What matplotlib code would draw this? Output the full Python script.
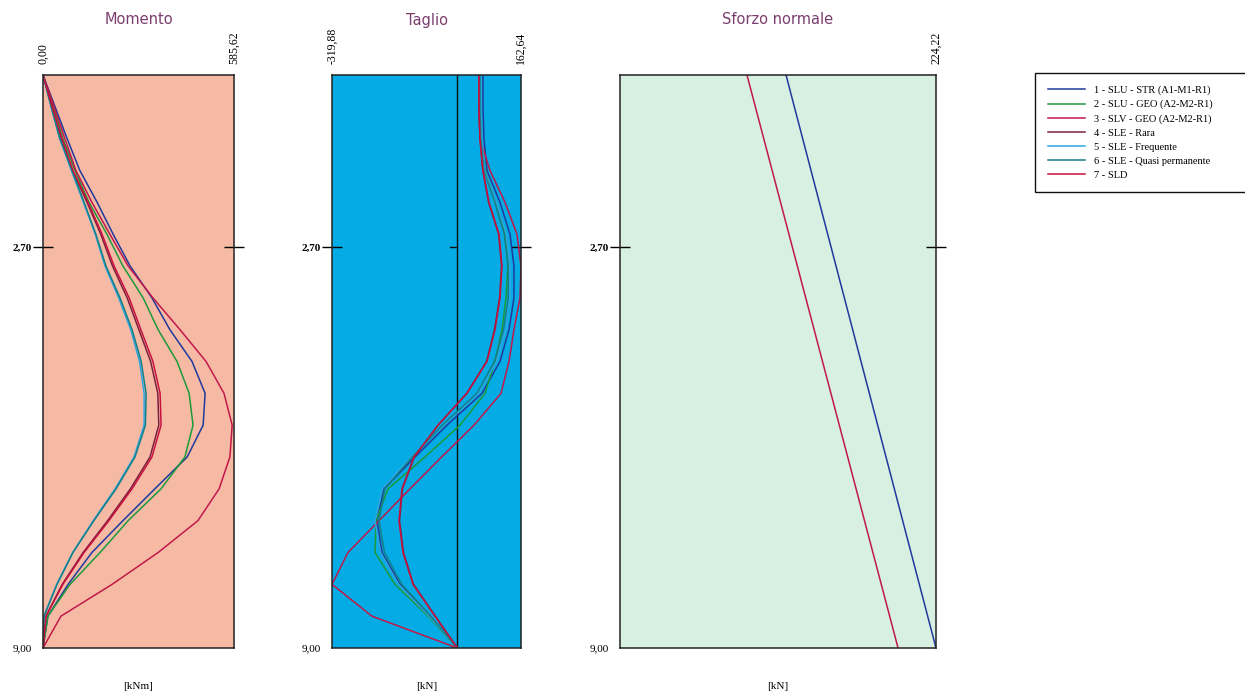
import numpy as np
import matplotlib
matplotlib.use("Agg")
import matplotlib.pyplot as plt

# depth along the wall (m), 0 at top
depth = [0.0, 0.5, 1.0, 1.5, 2.0, 2.5, 3.0, 3.5, 4.0, 4.5,
         5.0, 5.5, 6.0, 6.5, 7.0, 7.5, 8.0, 8.5, 9.0]

combo_labels = [
    "1 - SLU - STR (A1-M1-R1)",
    "2 - SLU - GEO (A2-M2-R1)",
    "3 - SLV - GEO (A2-M2-R1)",
    "4 - SLE - Rara",
    "5 - SLE - Frequente",
    "6 - SLE - Quasi permanente",
    "7 - SLD",
]
combo_colors = ["#1f3a9c", "#1d9a3a", "#c0184a", "#7a2040",
                "#2ea6e0", "#137f86", "#c8103e"]

# bending moment [kNm]
M1 = [0, 37, 74, 113, 166, 215, 267, 334, 389, 457, 497, 491, 442, 343, 245, 150, 77, 15, 0]
M2 = [0, 31, 61, 98, 141, 196, 245, 307, 353, 411, 448, 460, 435, 362, 261, 175, 83, 15, 0]
M3 = [0, 34, 67, 101, 150, 205, 261, 337, 420, 500, 555, 580, 573, 540, 475, 353, 212, 55, 0]
M4 = [0, 27, 56, 90, 135, 177, 213, 258, 294, 330, 352, 355, 328, 268, 198, 123, 59, 9, 0]
M5 = [0, 25, 51, 87, 124, 160, 190, 232, 269, 296, 310, 310, 279, 221, 154, 91, 42, 3, 0]
M6 = [0, 25, 52, 89, 126, 162, 193, 236, 273, 301, 316, 314, 282, 224, 156, 92, 43, 3, 0]
M7 = [0, 28, 58, 92, 138, 181, 218, 264, 300, 337, 359, 362, 334, 273, 202, 126, 61, 9, 0]

# shear [kN]
V1 = [65.6, 65.6, 68.2, 75.8, 109.0, 134.5, 144.7, 144.7, 132.0, 109.0, 63.1, -26.3, -108.0, -187.1, -205.0, -192.2, -146.3, -69.7, 0]
V2 = [57.9, 57.9, 60.5, 70.7, 98.8, 121.8, 129.4, 124.3, 114.1, 96.2, 70.7, 6.9, -82.5, -176.9, -207.5, -210.1, -159.0, -74.8, 0]
V3 = [55.4, 55.4, 57.9, 83.5, 121.8, 152.4, 162.64, 160.1, 144.7, 132.0, 111.6, 42.6, -40.0, -120.8, -199.9, -279.1, -319.88, -218.0, 0]
V4 = [55.4, 55.4, 57.9, 65.0, 80.0, 105.5, 113.0, 108.0, 95.0, 74.8, 24.0, -49.0, -110.0, -140.0, -147.5, -137.5, -112.0, -56.0, 0]
V5 = [60, 60, 62, 70, 100, 125, 135, 135, 124, 100, 55, -35, -118, -192, -210, -196, -150, -72, 0]
V6 = [58, 58, 60, 68, 96, 120, 130, 130, 118, 95, 50, -38, -115, -185, -200, -186, -142, -68, 0]
V7 = [55.4, 55.4, 57.9, 65.6, 80.9, 106.5, 114.1, 109.0, 96.2, 75.8, 24.8, -49.3, -110.6, -141.2, -148.8, -138.6, -113.1, -56.9, 0]

# normal force [kN], straight lines top -> bottom
N_depth = [0.0, 9.0]
N_blue = [117.8, 224.22]
N_red = [90.1, 197.3]

M_lim = (0.0, 585.62)
V_lim = (-319.88, 162.64)
N_lim = (0.0, 224.22)

serif = "Liberation Serif"
title_color = "#7a3d6e"

fig = plt.figure(figsize=(12.45, 6.99), dpi=100)

W, H = 1245.0, 699.0
def panel(x0, x1):
    return fig.add_axes([x0 / W, 1 - 648 / H, (x1 - x0) / W, (648 - 75) / H])

axM = panel(43, 234)
axV = panel(332, 521)
axN = panel(620, 936)


def style(ax, bg, xlim, xticks, xlabels, title, unit):
    ax.set_facecolor(bg)
    ax.set_xlim(*xlim)
    ax.set_ylim(9.0, 0.0)
    for s in ax.spines.values():
        s.set_linewidth(1.1)
        s.set_color("#222222")
    ax.xaxis.tick_top()
    ax.set_xticks(xticks)
    ax.set_xticklabels(xlabels, rotation=90, fontsize=8.5, family=serif)
    ax.tick_params(axis="x", length=0, pad=8)
    ax.set_yticks([2.7, 9.0])
    ax.set_yticklabels(["2,70", "9,00"], fontsize=8, family=serif)
    ax.get_yticklabels()[0].set_fontweight("bold")
    ax.tick_params(axis="y", direction="inout", length=14, width=1.0, pad=1,
                   right=True)
    ax.yaxis.get_major_ticks()[1].tick1line.set_visible(False)
    ax.yaxis.get_major_ticks()[1].tick2line.set_visible(False)
    # title at a fixed height, independent of the rotated tick labels
    ax.text(0.5, 1 + 55 / 573, title, transform=ax.transAxes, ha="center",
            va="center", fontsize=10.5, color=title_color, family="DejaVu Sans")
    ax.text(0.5, -0.068, unit, transform=ax.transAxes, ha="center", va="center",
            fontsize=8, family=serif)


style(axM, "#f6baa4", M_lim, [0.0, 585.62], ["0,00", "585,62"], "Momento", "[kNm]")
style(axV, "#05abe4", V_lim, [-319.88, 162.64], ["-319,88", "162,64"], "Taglio", "[kN]")
style(axN, "#d8f0e2", N_lim, [224.22], ["224,22"], "Sforzo normale", "[kN]")

lines = []
for vals, c in zip([M1, M2, M3, M4, M5, M6, M7], combo_colors):
    ln, = axM.plot(vals, depth, color=c, lw=1.1)
    lines.append(ln)

axV.axvline(0, color="#111111", lw=1.0)
axV.plot([-18, 0], [2.7, 2.7], color="#111111", lw=1.0)
for vals, c in zip([V1, V2, V3, V4, V5, V6, V7], combo_colors):
    axV.plot(vals, depth, color=c, lw=1.1)

axN.plot(N_blue, N_depth, color=combo_colors[0], lw=1.1)
axN.plot(N_red, N_depth, color=combo_colors[2], lw=1.1)

leg = fig.legend(lines, combo_labels, loc="upper left",
                 bbox_to_anchor=(1035 / W, 1 - 73 / H, 212 / W, 0.0),
                 mode="expand", borderaxespad=0,
                 prop={"family": serif, "size": 7.5},
                 handlelength=3.6, labelspacing=0.45, borderpad=1.2,
                 handletextpad=0.9,
                 fancybox=False, framealpha=1, edgecolor="#111111")
leg.get_frame().set_linewidth(1.0)

fig.savefig("out.png", dpi=100)
